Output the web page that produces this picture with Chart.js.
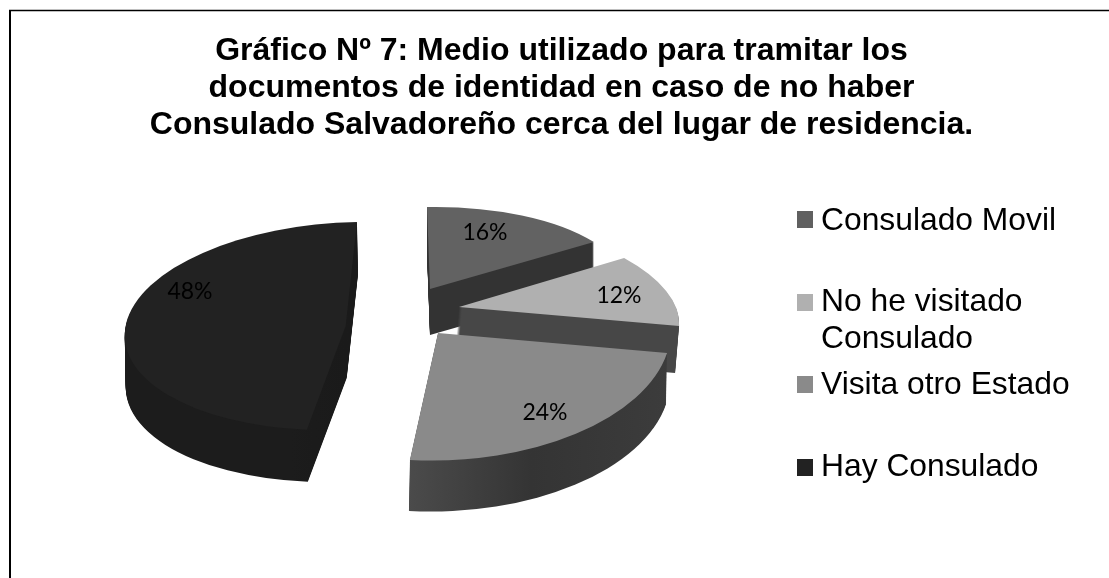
<!DOCTYPE html>
<html><head><meta charset="utf-8">
<style>html,body{margin:0;padding:0;background:#fff}#w{position:relative;width:1109px;height:578px}canvas{display:block}</style>
<script src="https://cdn.jsdelivr.net/npm/chart.js@4"></script>
</head><body><div id="w"><canvas id="c" width="1109" height="578"></canvas></div>
<script>
const titleLines = ['Gráfico Nº 7: Medio utilizado para tramitar los','documentos de identidad en caso de no haber','Consulado Salvadoreño cerca del lugar de residencia.'];
const categories = ['Consulado Movil','No he visitado Consulado','Visita otro Estado','Hay Consulado'];
const values = [16,12,24,48];
const topColors = ['#626262','#b0b0b0','#8a8a8a','#222222'];
const legendColors = ['#606060','#b0b0b0','#8a8a8a','#222222'];
// per-slice oblique projection: tip position, image of the x and y unit vectors, extrusion
const projection = [
 {c:[430,289],u:[196,-3.5],v:[3,82],d:[0,46],side:['#333333','#333333','#333333']},
 {c:[459,307],u:[217.5,1.5],v:[34.6,93.7],d:[-4,47],side:['#474747','#474747','#474747']},
 {c:[438,333],u:[233,-3.9],v:[1.1,127.5],d:[-1,51],side:['#4e4e4e','#343434','#3c3c3c']},
 {c:[345.7,326],u:[220.7,-4],v:[-11.3,104],d:[1,52],side:['#1c1c1c','#161616','#191919']}
];
const drawOrder = [0,3,1,2];
const labelPos = [[485,233],[619,296],[545,413],[190,292]];
const legendRows = [
 {sq:211,lines:[['Consulado Movil',230]]},
 {sq:294,lines:[['No he visitado',311],['Consulado',348]]},
 {sq:376,lines:[['Visita otro Estado',394]]},
 {sq:459,lines:[['Hay Consulado',476]]}
];
const pie3d = {
 id:'pie3d',
 beforeDatasetDraw(chart,args){
  const ctx=chart.ctx, arcs=chart.getDatasetMeta(args.index).data;
  for(const i of drawOrder){
   const el=arcs[i], p=projection[i], R=el.outerRadius;
   const apply=(ox,oy)=>{
    ctx.setTransform(p.u[0]/R,p.u[1]/R,p.v[0]/R,p.v[1]/R,p.c[0]+ox,p.c[1]+oy);
    ctx.translate(-el.x,-el.y);
   };
   const steps=Math.ceil(Math.abs(p.d[1]));
   for(let s=steps;s>=1;s--){
    ctx.save();
    apply(p.d[0]*s/steps,p.d[1]*s/steps);
    const g=ctx.createLinearGradient(el.x-R*0.2,0,el.x+R,0);
    g.addColorStop(0,p.side[0]);g.addColorStop(.5,p.side[1]);g.addColorStop(1,p.side[2]);
    ctx.fillStyle=g;
    ctx.beginPath();ctx.moveTo(el.x,el.y);
    ctx.arc(el.x,el.y,R,el.startAngle,el.endAngle);
    ctx.closePath();ctx.fill();
    ctx.restore();
   }
   ctx.save();
   apply(0,0);
   el.draw(ctx);
   ctx.restore();
  }
  return false;
 },
 afterDraw(chart){
  const ctx=chart.ctx;
  ctx.save();
  ctx.strokeStyle='#000';
  ctx.lineWidth=2;ctx.beginPath();ctx.moveTo(10,578);ctx.lineTo(10,10);ctx.stroke();
  ctx.lineWidth=1.5;ctx.beginPath();ctx.moveTo(9,10.5);ctx.lineTo(1109,10.5);ctx.stroke();
  ctx.fillStyle='#000';ctx.font='23px Lato';ctx.textAlign='center';ctx.textBaseline='middle';
  values.forEach((v,i)=>ctx.fillText(v+'%',labelPos[i][0],labelPos[i][1]));
  ctx.textAlign='left';ctx.textBaseline='alphabetic';ctx.font='31.8px "Liberation Sans"';
  legendRows.forEach((r,i)=>{
   ctx.fillStyle=legendColors[i];ctx.fillRect(797,r.sq,16,17);
   ctx.fillStyle='#000';
   r.lines.forEach(l=>ctx.fillText(l[0],821,l[1]));
  });
  ctx.restore();
 }
};
new Chart(document.getElementById('c'),{
 type:'pie',
 data:{labels:categories,datasets:[{data:values,backgroundColor:topColors,borderWidth:0}]},
 options:{responsive:false,animation:false,rotation:0,
  layout:{padding:{top:33,bottom:10,left:24,right:10}},
  plugins:{legend:{display:false},tooltip:{enabled:false},
   title:{display:true,text:titleLines,color:'#000',align:'center',padding:{top:0,bottom:0},
    font:{family:'"Liberation Sans"',weight:'bold',size:32,lineHeight:1.15}}}},
 plugins:[pie3d]
});
</script></body></html>
